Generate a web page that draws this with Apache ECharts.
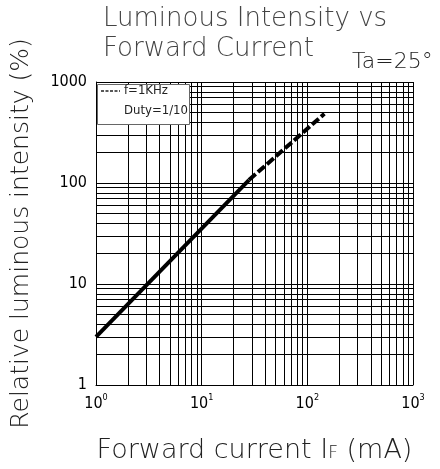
<!DOCTYPE html>
<html>
<head>
<meta charset="utf-8">
<script src="https://cdn.jsdelivr.net/npm/echarts@6/dist/echarts.min.js"></script>
<style>
  html, body { margin: 0; padding: 0; background: #fff; }
  #chart { width: 440px; height: 469px; }
</style>
</head>
<body>
<div id="chart"></div>
<script>
var chart = echarts.init(document.getElementById('chart'));

// curve (mA -> %)
const solidCurrent = [1, 28];
const solidIntensity = [3.0, 107];
const dashCurrent = [28, 145];
const dashIntensity = [107, 485];

// grid lines at the log sub-divisions
const xMinor = [2, 3, 4, 5, 6, 7, 8, 9, 20, 30, 40, 50, 60, 70, 80, 90, 200, 300, 400, 500, 600, 700, 800, 900];
const yMinor = [2, 3, 4, 5, 6, 7, 8, 9, 20, 30, 40, 50, 60, 70, 80, 90, 200, 300, 400, 500, 600, 700, 800, 900];

const font = 'DejaVu Sans';

function pairs(xs, ys) {
    return xs.map(function (x, i) { return [x, ys[i]]; });
}

var gridLines = xMinor.map(function (v) { return { xAxis: v }; })
    .concat(yMinor.map(function (v) { return { yAxis: v }; }));

var option = {
    animation: false,
    grid: { left: 96, right: 27, top: 82, bottom: 81 },
    xAxis: {
        type: 'log',
        logBase: 10,
        min: 1,
        max: 1000,
        axisLine: { lineStyle: { color: '#000', width: 1 } },
        axisTick: { show: false },
        splitLine: { show: true, lineStyle: { color: '#000', width: 1 } },
        axisLabel: {
            margin: 8,
            formatter: function (v) {
                return '{b|10}{s|' + Math.round(Math.log10(v)) + '}';
            },
            rich: {
                b: { fontFamily: 'DejaVu Sans Condensed', fontSize: 16, color: '#000', verticalAlign: 'bottom' },
                s: { fontFamily: 'DejaVu Sans Condensed', fontSize: 9, color: '#000', verticalAlign: 'top', padding: [0, 0, 10, 0] }
            }
        },
        name: '{t|Forward current I}{f|F}{t| (mA)}',
        nameLocation: 'middle',
        nameGap: 52,
        nameTextStyle: {
            rich: {
                t: { fontFamily: font, fontSize: 27, color: '#222', fontWeight: 'lighter' },
                f: { fontFamily: font, fontSize: 17, color: '#222', fontWeight: 'lighter', padding: [7, 0, 0, 0] }
            }
        }
    },
    yAxis: {
        type: 'log',
        logBase: 10,
        min: 1,
        max: 1000,
        axisLine: { lineStyle: { color: '#000', width: 1 } },
        axisTick: { show: false },
        splitLine: { show: true, lineStyle: { color: '#000', width: 1 } },
        axisLabel: {
            margin: 9,
            formatter: function (v) { return String(Math.round(v)); },
            fontFamily: 'DejaVu Sans Condensed',
            fontSize: 16,
            color: '#000'
        },
        name: 'Relative luminous intensity (%)',
        nameLocation: 'middle',
        nameGap: 62,
        nameRotate: 90,
        nameTextStyle: { fontFamily: font, fontSize: 25, color: '#222', fontWeight: 'lighter' }
    },
    graphic: [
        {
            type: 'text', left: 103, top: 6,
            style: { text: 'Luminous Intensity vs', font: 'lighter 26px "DejaVu Sans"', fill: '#444' }
        },
        {
            type: 'text', left: 103, top: 36,
            style: { text: 'Forward Current', font: 'lighter 26px "DejaVu Sans"', fill: '#444' }
        },
        {
            type: 'text', left: 352, top: 51,
            style: { text: 'Ta=25°', font: 'lighter 22px "DejaVu Sans"', fill: '#222' }
        },
        {
            type: 'rect', left: 97, top: 84, z: 10,
            shape: { width: 92, height: 40 },
            style: { fill: '#fff', stroke: '#666', lineWidth: 1 }
        },
        {
            type: 'line', z: 11,
            shape: { x1: 101, y1: 91, x2: 120, y2: 91 },
            style: { stroke: '#222', lineWidth: 1.5, lineDash: [3, 1.5] }
        },
        {
            type: 'text', left: 124, top: 84, z: 11,
            style: { text: 'f=1KHz', font: '13px "DejaVu Sans Condensed", "DejaVu Sans"', fill: '#222' }
        },
        {
            type: 'text', left: 124, top: 104, z: 11,
            style: { text: 'Duty=1/10', font: '13px "DejaVu Sans Condensed", "DejaVu Sans"', fill: '#222' }
        }
    ],
    series: [
        {
            type: 'line',
            data: pairs(solidCurrent, solidIntensity),
            symbol: 'none',
            lineStyle: { color: '#000', width: 4 },
            z: 5,
            markLine: {
                silent: true,
                symbol: 'none',
                label: { show: false },
                lineStyle: { color: '#000', width: 1, type: 'solid' },
                data: gridLines
            }
        },
        {
            type: 'line',
            data: pairs(dashCurrent, dashIntensity),
            symbol: 'none',
            z: 5,
            lineStyle: { color: '#000', width: 4, type: [9, 3] }
        }
    ]
};
chart.setOption(option);
</script>
</body>
</html>
